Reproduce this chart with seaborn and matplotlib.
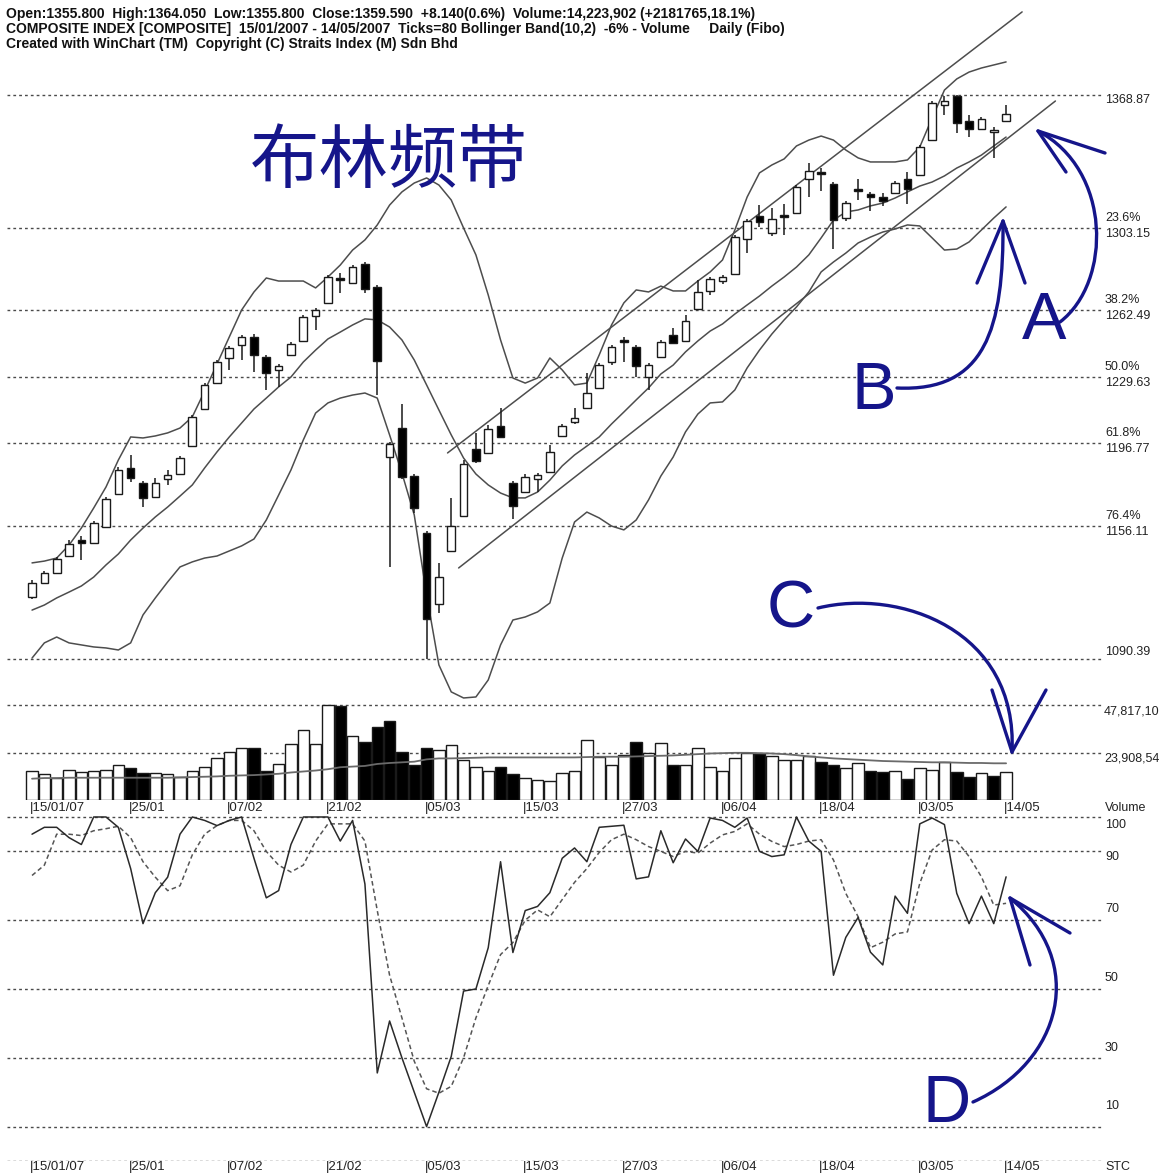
import numpy as np
import pandas as pd
import matplotlib
matplotlib.use("Agg")
import matplotlib.pyplot as plt
import seaborn as sns
from matplotlib.path import Path
from matplotlib.patches import PathPatch

# ---- values (KLCI composite, 80 daily bars) ----
date_labels = ["15/01/07", "25/01", "07/02", "21/02", "05/03", "15/03",
               "27/03", "06/04", "18/04", "03/05", "14/05"]
date_bars = [0, 8, 16, 24, 32, 40, 48, 56, 64, 72, 79]

opens = [1121.0, 1127.9, 1132.8, 1141.2, 1149.1, 1147.6, 1155.5, 1171.8, 1184.7, 1177.3,
         1170.3, 1179.2, 1181.7, 1195.5, 1213.8, 1226.6, 1239.0, 1245.4, 1249.4, 1239.5,
         1233.1, 1240.5, 1247.4, 1259.7, 1266.2, 1278.5, 1276.0, 1285.4, 1274.1, 1190.1,
         1204.4, 1180.7, 1152.6, 1117.5, 1143.7, 1161.0, 1194.1, 1192.1, 1205.4, 1177.3,
         1172.8, 1179.2, 1182.7, 1200.5, 1207.4, 1214.3, 1224.2, 1237.0, 1247.9, 1244.4,
         1229.6, 1239.5, 1250.3, 1247.4, 1263.2, 1272.1, 1277.0, 1280.5, 1297.8, 1309.1,
         1300.7, 1309.6, 1310.6, 1327.4, 1330.8, 1324.9, 1308.1, 1322.4, 1320.0, 1318.5,
         1320.5, 1327.4, 1329.4, 1346.6, 1363.9, 1368.4, 1356.0, 1352.1, 1350.6, 1355.8]
highs = [1129.4, 1133.8, 1140.7, 1149.1, 1151.1, 1158.5, 1170.4, 1185.2, 1191.1, 1178.2,
         1179.7, 1183.7, 1190.6, 1210.8, 1226.6, 1238.0, 1244.9, 1250.4, 1250.8, 1240.5,
         1236.0, 1246.9, 1260.2, 1263.7, 1280.0, 1281.0, 1284.9, 1286.4, 1275.0, 1197.5,
         1216.3, 1181.7, 1153.6, 1137.8, 1169.9, 1188.6, 1202.0, 1205.9, 1214.3, 1178.2,
         1181.7, 1182.2, 1196.0, 1206.4, 1214.3, 1231.6, 1236.5, 1245.4, 1249.4, 1245.4,
         1236.5, 1247.9, 1253.8, 1260.2, 1277.5, 1279.0, 1280.0, 1299.7, 1307.6, 1314.5,
         1313.1, 1315.0, 1324.4, 1335.3, 1332.8, 1325.9, 1316.5, 1327.4, 1320.9, 1320.5,
         1326.4, 1330.8, 1344.2, 1365.9, 1368.4, 1368.87, 1359.0, 1358.0, 1353.1, 1364.05]
lows = [1120.0, 1127.4, 1132.3, 1140.7, 1139.2, 1147.1, 1155.0, 1171.3, 1177.8, 1165.4,
        1169.9, 1176.3, 1181.2, 1195.0, 1213.3, 1226.1, 1233.1, 1238.0, 1232.1, 1223.2,
        1224.7, 1240.0, 1246.9, 1252.8, 1265.7, 1271.1, 1275.5, 1271.1, 1220.7, 1135.8,
        1179.2, 1162.4, 1090.39, 1113.1, 1143.2, 1160.5, 1187.1, 1191.6, 1199.5, 1159.5,
        1172.3, 1172.8, 1182.2, 1200.0, 1206.4, 1213.8, 1223.7, 1235.5, 1237.0, 1229.6,
        1223.2, 1239.0, 1245.9, 1246.9, 1262.7, 1270.1, 1275.5, 1280.0, 1290.8, 1303.7,
        1299.2, 1299.7, 1310.1, 1318.5, 1321.5, 1292.8, 1306.6, 1317.0, 1311.6, 1314.1,
        1320.0, 1315.0, 1328.9, 1346.1, 1359.0, 1350.1, 1348.1, 1351.6, 1337.8, 1355.8]
closes = [1127.9, 1132.8, 1139.7, 1147.1, 1147.6, 1157.5, 1169.4, 1183.7, 1179.7, 1169.9,
          1177.3, 1181.2, 1189.6, 1209.9, 1225.7, 1237.0, 1243.9, 1249.4, 1240.5, 1231.6,
          1235.0, 1245.9, 1259.2, 1262.7, 1279.0, 1277.5, 1283.9, 1273.1, 1237.5, 1196.5,
          1180.2, 1164.9, 1110.1, 1130.8, 1156.0, 1186.6, 1188.1, 1203.9, 1200.0, 1165.9,
          1180.2, 1181.2, 1192.6, 1205.4, 1209.4, 1221.7, 1235.5, 1244.4, 1246.9, 1235.0,
          1235.5, 1246.9, 1246.4, 1257.3, 1271.6, 1278.0, 1279.0, 1298.7, 1306.6, 1306.1,
          1307.6, 1308.6, 1323.4, 1331.3, 1329.9, 1307.1, 1315.5, 1321.5, 1318.5, 1316.5,
          1325.4, 1322.4, 1343.2, 1364.9, 1365.9, 1355.0, 1352.1, 1357.0, 1351.45, 1359.59]

bb_upper = [1137.8, 1138.7, 1140.2, 1146.6, 1155.0, 1164.9, 1175.3, 1188.6, 1200.0, 1199.5,
            1200.5, 1202.0, 1204.4, 1209.9, 1222.7, 1236.0, 1249.4, 1262.7, 1271.6, 1278.5,
            1277.0, 1277.0, 1277.0, 1273.6, 1279.0, 1284.9, 1292.3, 1297.3, 1304.7, 1314.5,
            1321.0, 1325.4, 1327.9, 1324.4, 1317.0, 1303.2, 1289.9, 1270.1, 1247.9, 1229.1,
            1226.6, 1229.1, 1239.0, 1233.1, 1225.7, 1226.6, 1240.5, 1255.3, 1266.2, 1272.6,
            1271.6, 1274.5, 1272.1, 1272.1, 1277.0, 1281.5, 1287.4, 1302.2, 1318.5, 1330.4,
            1334.3, 1337.3, 1343.7, 1346.6, 1348.6, 1346.6, 1341.7, 1337.8, 1335.8, 1335.8,
            1335.8, 1336.8, 1343.2, 1357.5, 1371.3, 1376.8, 1380.2, 1382.2, 1383.7, 1385.2]
bb_mid = [1114.5, 1117.0, 1120.5, 1123.4, 1126.4, 1130.8, 1136.8, 1142.2, 1149.1, 1155.0,
          1160.5, 1165.4, 1170.8, 1176.3, 1184.7, 1192.6, 1200.0, 1206.9, 1213.8, 1219.2,
          1224.7, 1229.6, 1237.0, 1242.9, 1248.4, 1251.8, 1255.3, 1258.3, 1257.8, 1254.3,
          1247.9, 1238.0, 1225.7, 1213.3, 1201.0, 1189.6, 1181.7, 1176.3, 1172.3, 1169.9,
          1169.9, 1172.8, 1178.7, 1185.7, 1191.1, 1195.5, 1200.0, 1206.4, 1212.3, 1218.3,
          1224.2, 1231.1, 1235.5, 1242.0, 1247.4, 1252.3, 1255.8, 1260.7, 1265.2, 1269.6,
          1274.5, 1279.0, 1283.9, 1289.9, 1298.3, 1307.1, 1311.1, 1312.1, 1314.1, 1315.5,
          1318.0, 1321.0, 1323.9, 1325.9, 1328.9, 1332.8, 1335.8, 1339.2, 1343.7, 1348.1]
bb_lower = [1090.8, 1098.3, 1101.2, 1098.3, 1097.3, 1096.3, 1095.8, 1094.8, 1098.3, 1112.1,
            1120.5, 1128.4, 1135.8, 1138.3, 1140.2, 1141.2, 1143.7, 1146.2, 1149.6, 1159.0,
            1171.3, 1183.7, 1198.5, 1211.8, 1216.8, 1219.2, 1220.7, 1221.7, 1219.2, 1201.0,
            1182.2, 1161.5, 1122.0, 1087.4, 1074.1, 1071.1, 1071.6, 1080.0, 1097.3, 1109.6,
            1111.1, 1113.6, 1118.0, 1140.2, 1158.0, 1162.9, 1160.0, 1156.0, 1154.1, 1159.0,
            1168.9, 1180.7, 1190.1, 1202.5, 1211.3, 1216.8, 1217.3, 1223.2, 1234.1, 1242.9,
            1250.8, 1257.8, 1264.2, 1271.6, 1281.5, 1286.4, 1290.8, 1295.8, 1298.7, 1301.2,
            1302.7, 1304.7, 1304.2, 1298.3, 1292.3, 1292.8, 1296.3, 1302.2, 1308.1, 1313.6]

# hand-drawn trend channel (bar index, price at each end)
chan_top_bar, chan_top_px = [33.7, 80.3], [1192.1, 1409.9]
chan_bot_bar, chan_bot_px = [34.6, 83.0], [1135.3, 1365.9]

fib_levels = [1368.87, 1303.15, 1262.49, 1229.63, 1196.77, 1156.11, 1090.39]
fib_pcts = ["", "23.6%", "38.2%", "50.0%", "61.8%", "76.4%", ""]

# volume in thousands, plus its moving average
volume = [14841, 12862, 11213, 15171, 14017, 14511, 15171, 17644, 15995, 13522,
          13522, 13192, 11543, 14841, 16820, 21107, 23911, 26054, 26384, 14841,
          18139, 28363, 35454, 28363, 47817, 47491, 32156, 29352, 36608, 39906,
          23911, 17809, 26054, 25065, 27703, 20283, 16820, 14511, 16820, 13192,
          11213, 9894, 9564, 13687, 14841, 30012, 21767, 17809, 22756, 29352,
          23416, 28528, 17809, 17809, 26054, 16820, 14841, 21107, 23581, 23086,
          21932, 20118, 20118, 22262, 19293, 17809, 16160, 18469, 14511, 14017,
          14841, 10719, 16160, 15171, 19293, 14017, 11543, 13687, 12042, 14224]
vol_ma = [10719, 11048, 11048, 11213, 11213, 11213, 11213, 11213, 11213, 11213,
          11213, 11213, 11378, 11543, 11708, 11873, 12203, 12368, 12532, 12862,
          13192, 13852, 14346, 14841, 15501, 16490, 16820, 17150, 18139, 18634,
          18964, 19293, 20448, 20942, 20942, 21107, 21272, 21437, 21437, 21437,
          21437, 21437, 21437, 21437, 21437, 21602, 21767, 21767, 21767, 21932,
          22097, 22262, 22426, 22756, 23086, 23416, 23581, 23746, 23746, 23581,
          23416, 23086, 22591, 21932, 21437, 20942, 20613, 20283, 19953, 19623,
          19458, 19293, 19128, 18964, 18964, 18799, 18634, 18634, 18469, 18469]
vol_levels = [47817.10, 23908.54]
vol_level_text = ["47,817,10", "23,908,54"]

# stochastic %K (solid) and %D (dashed)
stoch_k = [95, 97, 97, 94, 92, 100, 100, 97, 85, 69,
           78, 82.5, 95, 100, 99, 97.5, 99, 100, 88, 76.5,
           78.6, 92, 100, 100, 100, 93, 99, 80.5, 25.6, 40.7,
           30, 20, 10, 20, 30.4, 49.4, 50, 62, 87, 60.6,
           72.8, 74, 78, 88, 91, 87, 97, 97.3, 97.6, 82,
           82.6, 96, 86.7, 93.6, 90, 99.7, 99, 97, 99.7, 90,
           88.5, 89, 100, 93, 90, 54, 65, 70.8, 60.7, 57,
           77, 72, 98, 99.7, 97.8, 77.8, 69, 77, 69, 82.6]
stoch_d = [83, 86, 95, 95, 94.6, 96, 96.6, 97.3, 94, 87,
           82.5, 78.6, 80, 89, 95, 97.5, 99, 99, 96, 90,
           86, 84, 86, 93, 98, 98, 98, 93, 72.8, 54,
           41.6, 29, 21, 19.7, 21.7, 30, 41.6, 51, 60, 63.5,
           70, 73, 71, 76, 81, 85, 89.7, 93.4, 95, 93.4,
           91.4, 90, 88.5, 90, 89.5, 92.4, 94.8, 95.8, 98, 95,
           92.9, 91.4, 92, 93, 93.4, 87.5, 77.8, 71, 62, 63.6,
           66, 66.6, 80.7, 90.4, 93.4, 93, 88.5, 82.6, 74.4, 74.9]
stoch_levels = [100, 90, 70, 50, 30, 10, 0]
stoch_labels = ["100", "90", "70", "50", "30", "10"]

header = ["Open:1355.800  High:1364.050  Low:1355.800  Close:1359.590  +8.140(0.6%)  "
          "Volume:14,223,902 (+2181765,18.1%)",
          "COMPOSITE INDEX [COMPOSITE]  15/01/2007 - 14/05/2007  Ticks=80 Bollinger "
          "Band(10,2)  -6% - Volume     Daily (Fibo)",
          "Created with WinChart (TM)  Copyright (C) Straits Index (M) Sdn Bhd"]

# ---------------------------------------------------------------------------
W, H = 1164, 1175
sns.set_theme(style="white")
plt.rcParams["font.family"] = ["Liberation Sans", "DejaVu Sans"]

GRID = "#4a4a4a"
LINE = "#4d4d4d"
TXT = "#222222"
NAVY = "#15158a"
DOT = (0, (2, 2.2))

df = pd.DataFrame({"bar": np.arange(len(closes)), "open": opens, "high": highs,
                   "low": lows, "close": closes, "upper": bb_upper, "mid": bb_mid,
                   "lower": bb_lower, "volume": volume, "vol_ma": vol_ma,
                   "k": stoch_k, "d": stoch_d})
df["up"] = df["close"] >= df["open"]
df["vol_up"] = df["close"].diff().fillna(1) >= 0

fig = plt.figure(figsize=(W / 100, H / 100), dpi=100)
fig.patch.set_facecolor("white")


def band_axes(top, bottom):
    ax = fig.add_axes([7 / W, 1 - bottom / H, (1103 - 7) / W, (bottom - top) / H])
    ax.set_xlim(-2.03, 86.86)
    ax.axis("off")
    return ax


ax_p = band_axes(0, 700)
ax_v = band_axes(700, 800)
ax_s = band_axes(812, 1161)
ax_p.set_ylim(1070.1, 1415.78)
ax_v.set_ylim(0, 50334)
ax_s.set_ylim(0, 101.45)

lab = dict(fontsize=9, color=TXT, ha="left", va="center",
           textcoords="offset pixels", annotation_clip=False)
dlab = dict(lab, fontsize=9.5)

# ---- price panel ----
for lvl, pct in zip(fib_levels, fib_pcts):
    ax_p.axhline(lvl, color=GRID, lw=1, ls=DOT, zorder=1)
    if pct:
        ax_p.annotate(pct, xy=(1, lvl), xycoords=("axes fraction", "data"),
                      xytext=(2, 10), **lab)
        ax_p.annotate(f"{lvl:.2f}", xy=(1, lvl), xycoords=("axes fraction", "data"),
                      xytext=(2, -6), **lab)
    else:
        dy = -5 if lvl > 1200 else 7
        ax_p.annotate(f"{lvl:.2f}", xy=(1, lvl), xycoords=("axes fraction", "data"),
                      xytext=(2, dy), **lab)

for col in ["upper", "mid", "lower"]:
    sns.lineplot(data=df, x="bar", y=col, ax=ax_p, color=LINE, lw=1.1,
                 legend=False, zorder=2)
ax_p.plot(chan_top_bar, chan_top_px, color=LINE, lw=1.1, zorder=2)
ax_p.plot(chan_bot_bar, chan_bot_px, color=LINE, lw=1.1, zorder=2)

body_lo = np.minimum(df["open"], df["close"])
body_h = np.maximum((df["close"] - df["open"]).abs(), 0.45)
ax_p.vlines(df["bar"], df["low"], df["high"], color="#1a1a1a", lw=1.1, zorder=3)
ax_p.bar(df["bar"], body_h, bottom=body_lo, width=0.62,
         color=np.where(df["up"], "white", "black"), edgecolor="#1a1a1a",
         lw=1, zorder=4)
ax_p.set_xlabel("")
ax_p.set_ylabel("")

# ---- volume panel ----
for lvl, t in zip(vol_levels, vol_level_text):
    ax_v.axhline(lvl, color=GRID, lw=1, ls=DOT, zorder=1)
    ax_v.annotate(t, xy=(1, lvl), xycoords=("axes fraction", "data"),
                  xytext=(1, -6), **lab)
ax_v.bar(df["bar"], df["volume"], width=0.93,
         color=np.where(df["vol_up"], "white", "black"), edgecolor="#1a1a1a",
         lw=1, zorder=2)
sns.lineplot(data=df, x="bar", y="vol_ma", ax=ax_v, color="#6a6a6a", lw=1.3,
             legend=False, zorder=3)
ax_v.set_xlabel("")
ax_v.set_ylabel("")
for b, t in zip(date_bars, date_labels):
    ax_v.annotate("|" + t, xy=(b, 0), xycoords=("data", "axes fraction"),
                  xytext=(-2, -8), **dlab)
ax_v.annotate("Volume", xy=(1, 0), xycoords="axes fraction", xytext=(2, -8), **lab)

# ---- stochastic panel ----
stoch_dy = [-8, -6, 11, 11, 10, 21]
for lvl in stoch_levels:
    ax_s.axhline(lvl, color=GRID, lw=1, ls=DOT, zorder=1)
for lvl, t, dy in zip(stoch_levels, stoch_labels, stoch_dy):
    ax_s.annotate(t, xy=(1, lvl), xycoords=("axes fraction", "data"),
                  xytext=(2, dy), **lab)
sns.lineplot(data=df, x="bar", y="k", ax=ax_s, color="#2a2a2a", lw=1.1,
             legend=False, zorder=3)
sns.lineplot(data=df, x="bar", y="d", ax=ax_s, color="#555555", lw=1.1,
             ls=(0, (3, 2)), legend=False, zorder=2)
ax_s.set_xlabel("")
ax_s.set_ylabel("")
for b, t in zip(date_bars, date_labels):
    ax_s.annotate("|" + t, xy=(b, 0), xycoords=("data", "axes fraction"),
                  xytext=(-2, -6), **dlab)
ax_s.annotate("STC", xy=(1, 0), xycoords="axes fraction", xytext=(2, -6), **lab)

# ---- header ----
for k, line in enumerate(header):
    fig.text(6 / W, 1 - (14 + 15 * k) / H, line, fontsize=10, fontweight="bold",
             color="#111111", ha="left", va="center")

# ---- hand annotations (figure pixel coordinates) ----
def fpt(x, y):
    return (x / W, 1 - y / H)


def stroke(points, codes=None):
    verts = [fpt(*p) for p in points]
    if codes is None:
        codes = [Path.MOVETO] + [Path.LINETO] * (len(verts) - 1)
    fig.add_artist(PathPatch(Path(verts, codes), transform=fig.transFigure,
                             fill=False, edgecolor=NAVY, lw=2.4,
                             capstyle="round", joinstyle="round"))


def curved_arrow(p0, c1, c2, tip, barb1, barb2):
    stroke([p0, c1, c2, tip], [Path.MOVETO, Path.CURVE4, Path.CURVE4, Path.CURVE4])
    stroke([barb1, tip, barb2])


curved_arrow((1060, 322), (1112, 282), (1112, 170), (1038, 131), (1105, 153), (1066, 172))
curved_arrow((897, 388), (985, 392), (1004, 330), (1003, 221), (977, 283), (1025, 283))
curved_arrow((818, 608), (900, 588), (1018, 630), (1012, 752), (992, 690), (1046, 690))
curved_arrow((973, 1102), (1062, 1062), (1088, 962), (1010, 898), (1030, 965), (1070, 933))

big = dict(color=NAVY, ha="center", va="center", fontsize=48,
           family=["Liberation Sans", "DejaVu Sans"])
for ch, (x, y) in zip("ABCD", [(1044, 322), (874, 392), (791, 610), (947, 1105)]):
    fig.text(*fpt(x, y), ch, **big)

fig.text(*fpt(389, 162), "布林频带", color=NAVY, ha="center", va="center",
         fontsize=50, family=["Noto Sans CJK SC", "DejaVu Sans"])

fig.savefig("out.png", dpi=100, facecolor="white")
